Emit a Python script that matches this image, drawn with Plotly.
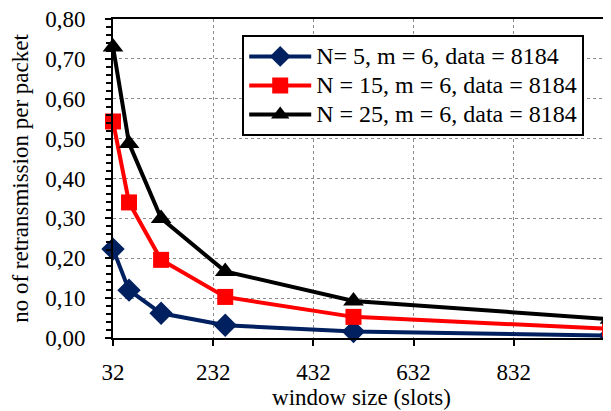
import plotly.graph_objects as go

window_size = [32, 64, 128, 256, 512, 1024]
n5 = [0.223, 0.120, 0.062, 0.032, 0.016, 0.006]
n15 = [0.543, 0.340, 0.196, 0.103, 0.053, 0.023]
n25 = [0.730, 0.488, 0.300, 0.167, 0.093, 0.047]
names = ["N= 5, m = 6, data = 8184", "N = 15, m = 6, data = 8184", "N = 25, m = 6, data = 8184"]
x_ticks = [32, 232, 432, 632, 832]

FONT = "Liberation Serif"

fig = go.Figure()
styles = [
    (n5, "#002060", "diamond", 18),
    (n15, "#FF0000", "square", 16),
    (n25, "#000000", "triangle-up", 18),
]
for (vals, col, sym, sz), nm in zip(styles, names):
    fig.add_trace(go.Scatter(
        x=window_size, y=vals, name='<span style="font-size:24px">' + nm + '</span>',
        mode="lines+markers",
        line=dict(color=col, width=4),
        marker=dict(symbol=sym, size=sz, color=col),
        cliponaxis=False,
    ))

# page body adds an 8px offset; figure is sized to fit the remaining window
fig.update_layout(
    width=603, height=403,
    margin=dict(l=105, r=1, t=11, b=73, autoexpand=False),
    paper_bgcolor="white", plot_bgcolor="white",
    separators=", ",
    font=dict(family=FONT, size=23, color="black"),
    showlegend=True,
    legend=dict(
        x=0.26, y=0.95, xanchor="left", yanchor="top",
        bgcolor="white", bordercolor="black", borderwidth=2,
        font=dict(family=FONT, size=20, color="black"),
        tracegroupgap=0, itemsizing="trace", itemwidth=62,
    ),
)
fig.update_xaxes(
    range=[32, 1024], tickvals=x_ticks, ticktext=[str(v) for v in x_ticks],
    showline=True, linecolor="black", linewidth=2, mirror=True,
    ticks="outside", ticklen=6, tickwidth=2, tickcolor="black",
    showgrid=True, gridcolor="#8c8c8c", griddash="dot", gridwidth=1,
    zeroline=False, automargin=False, ticklabeloverflow="allow",
    ticklabelstandoff=6,
    title=dict(text="window size (slots)", standoff=4, font=dict(size=23)),
)
fig.update_yaxes(
    range=[0, 0.8], dtick=0.1, tick0=0, tickformat=".2f",
    showline=True, linecolor="black", linewidth=2, mirror=True,
    ticks="outside", ticklen=6, tickwidth=2, tickcolor="black",
    minor=dict(dtick=0.02, ticks="outside", ticklen=5, tickwidth=2, tickcolor="black", showgrid=False),
    showgrid=True, gridcolor="#8c8c8c", griddash="dot", gridwidth=1,
    zeroline=False, automargin=False, ticklabeloverflow="allow",
    ticklabelstandoff=15,
    title=dict(text="no of retransmission per packet", standoff=10, font=dict(size=23)),
)

fig.write_html("out.html")
